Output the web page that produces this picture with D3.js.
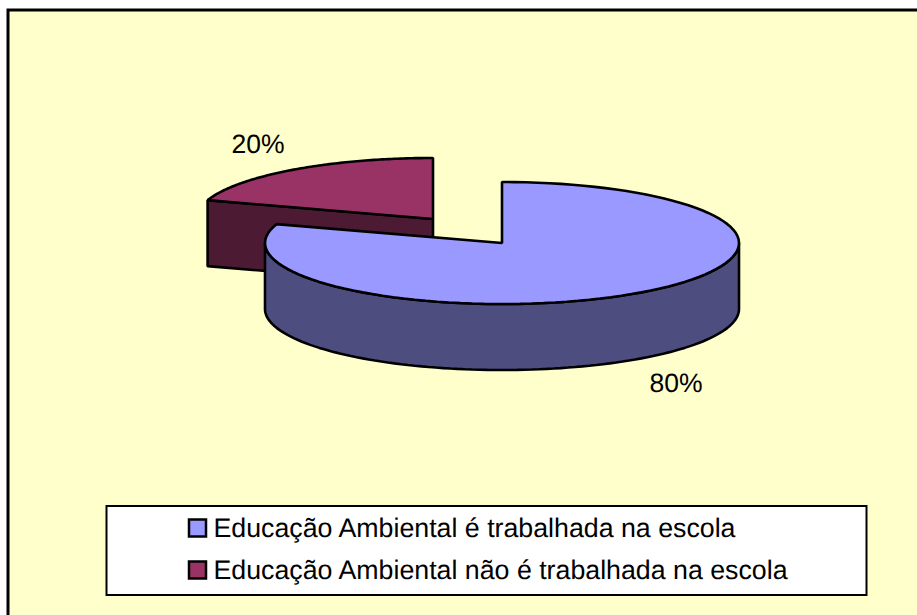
<!DOCTYPE html>
<html><head><meta charset="utf-8">
<script src="https://cdn.jsdelivr.net/npm/d3@7"></script>
<style>html,body{margin:0;padding:0;background:#fff}svg{display:block}text{font-family:"Liberation Sans",Arial,sans-serif;fill:#000;text-rendering:geometricPrecision}</style>
</head><body><svg id="c" width="917" height="615"></svg>
<script>
const categories = ["Educação Ambiental é trabalhada na escola","Educação Ambiental não é trabalhada na escola"];
const values = [80,20];
const valueLabels = ["80%","20%"];
const colors = ["#9999FF","#993366"];
const sideColors = ["#4D4D80","#4D1A33"];

const svg = d3.select("#c");
const stroke = "#000";
svg.append("rect").attr("x",8).attr("y",10).attr("width",930).attr("height",630)
  .attr("fill","#FFFFCC").attr("stroke",stroke).attr("stroke-width",3);

const rx = 237, ry = 61, depth = 66;
const TAU = Math.PI*2;
const slices = d3.pie().sort(null).startAngle(0).endAngle(TAU)(values);
const centers = [[502,243],[433,219]];
const pt = (c,a,dz=0)=>[c[0]+rx*Math.sin(a), c[1]-ry*Math.cos(a)+dz];
const samples = (a0,a1)=>d3.range(0,101).map(i=>a0+(a1-a0)*i/100);
const line = d3.line();
const g = svg.append("g").attr("stroke",stroke).attr("stroke-width",2.6).attr("stroke-linejoin","bevel");

function topFace(i){
  const s=slices[i], c=centers[i];
  return line([c,...samples(s.startAngle,s.endAngle).map(a=>pt(c,a)),c])+"Z";
}
// maroon slice: only its left radial wall faces the viewer
const s1=slices[1], c1=centers[1];
g.append("path").attr("fill",sideColors[1])
  .attr("d",line([pt(c1,s1.startAngle),c1,[c1[0],c1[1]+depth],pt(c1,s1.startAngle,depth)])+"Z");
g.append("path").attr("fill",colors[1]).attr("d",topFace(1));

// blue slice: outer wall over the front half of the ellipse
const c0=centers[0];
const front=samples(Math.PI/2,Math.PI*1.5);
g.append("path").attr("fill",sideColors[0])
  .attr("d",line([...front.map(a=>pt(c0,a)),...front.slice().reverse().map(a=>pt(c0,a,depth))])+"Z");
g.append("path").attr("fill",colors[0]).attr("d",topFace(0));

const fsLabel=26.5, fs=26.75;
svg.append("text").attr("x",258).attr("y",153).attr("text-anchor","middle").attr("font-size",fsLabel).text(valueLabels[1]);
svg.append("text").attr("x",676).attr("y",392).attr("text-anchor","middle").attr("font-size",fsLabel).text(valueLabels[0]);

svg.append("rect").attr("x",106.5).attr("y",506).attr("width",760).attr("height",89)
  .attr("fill","#fff").attr("stroke",stroke).attr("stroke-width",2);
const rowY=d3.scalePoint().domain(categories).range([528,570]);
const leg=svg.selectAll("g.l").data(categories).join("g").attr("class","l");
leg.append("rect").attr("x",189).attr("y",d=>rowY(d)-8.5).attr("width",17).attr("height",17)
  .attr("fill",(d,i)=>colors[i]).attr("stroke",stroke).attr("stroke-width",2.5);
leg.append("text").attr("x",213.5).attr("y",d=>rowY(d)+9).attr("font-size",fs).text(d=>d);
</script></body></html>
